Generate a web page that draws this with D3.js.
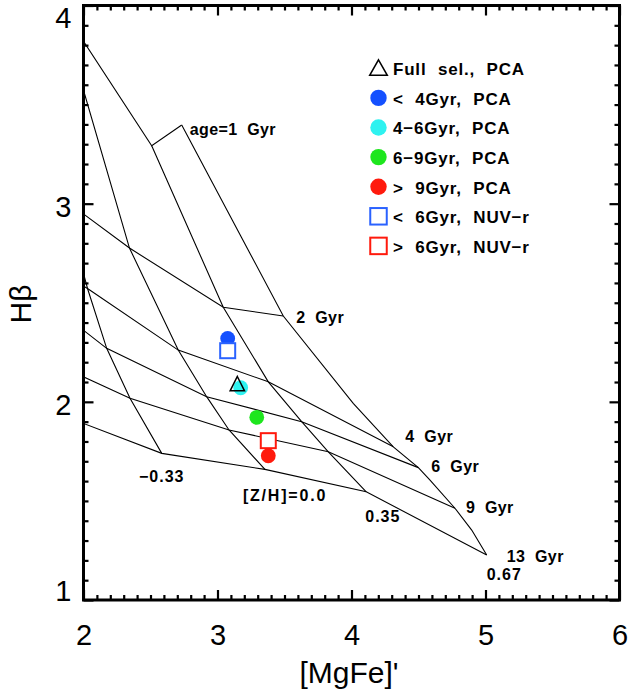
<!DOCTYPE html>
<html><head><meta charset="utf-8">
<script src="https://cdn.jsdelivr.net/npm/d3@7"></script>
<style>
html,body{margin:0;padding:0;background:#fff;}
svg{display:block;}
</style>
</head><body>
<svg id="c" width="630" height="689"></svg>
<script>
// ---- model grid (SSP grid), rows = ages, columns = metallicities
const metallicities = ["-1.35","-0.33","0.0","0.35","0.67"];
const ages = [1, 2, 4, 6, 9, 13];
const mgfeModel = [
  [1.265, 1.563, 1.808, 2.509, 2.733],
  [1.526, 1.851, 2.343, 3.043, 3.491],
  [1.601, 2.030, 2.707, 3.379, 4.312],
  [1.675, 2.173, 2.919, 3.628, 4.499],
  [1.675, 2.347, 3.086, 3.827, 4.772],
  [1.675, 2.584, 3.354, 4.110, 5.009]
];
const hbetaModel = [
  [4.582, 4.269, 4.018, 3.292, 3.397],
  [3.185, 3.023, 2.776, 2.477, 2.433],
  [2.746, 2.572, 2.261, 2.101, 1.773],
  [2.532, 2.270, 2.026, 1.900, 1.668],
  [2.228, 2.018, 1.858, 1.748, 1.463],
  [1.975, 1.740, 1.659, 1.546, 1.227]
];
// extra age steps along the [Z/H]=0.67 track
const extraAges = [3, 7, 11];
const extraMgfe = [4.013, 4.586, 4.897];
const extraHbeta = [1.992, 1.605, 1.353];

// ---- measured samples
const sampleNames = ["Full sel., PCA", "< 4Gyr, PCA", "4\u22126Gyr, PCA", "6\u22129Gyr, PCA", "> 9Gyr, PCA", "< 6Gyr, NUV\u2212r", "> 6Gyr, NUV\u2212r"];
const sampleMgfe  = [3.148, 3.076, 3.173, 3.293, 3.379, 3.076, 3.379];
const sampleHbeta = [2.090, 2.320, 2.071, 1.922, 1.728, 2.258, 1.804];
const sampleShape = ["triangle", "circle", "circle", "circle", "circle", "square", "square"];
const sampleColor = ["#000000", "#1450ff", "#2ef2f0", "#1ee61e", "#ff1a0d", "#2a62ff", "#ff1a0d"];
const drawOrder = [1, 5, 2, 0, 3, 6, 4];

// ---- axes
const xTicks = [2, 3, 4, 5, 6];
const yTicks = [1, 2, 3, 4];

const L = 83.5, R = 619.5, T = 5.5, B = 600;
const svg = d3.select("#c");
const x = d3.scaleLinear().domain([2, 6]).range([L, R]);
const y = d3.scaleLinear().domain([1, 4]).range([B, T]);

svg.append("defs").append("clipPath").attr("id", "clip")
  .append("rect").attr("x", L).attr("y", T).attr("width", R - L).attr("height", B - T);

const grid = svg.append("g").attr("clip-path", "url(#clip)")
  .attr("fill", "none").attr("stroke", "#000").attr("stroke-width", 1.1);
const line = d3.line().x(d => x(d[0])).y(d => y(d[1]));

// constant-age lines
ages.forEach((a, i) => {
  const pts = metallicities.map((z, j) => [mgfeModel[i][j], hbetaModel[i][j]]);
  grid.append("path").attr("d", line(pts));
});
// constant-metallicity lines
metallicities.forEach((z, j) => {
  let pts = ages.map((a, i) => ({age: a, v: [mgfeModel[i][j], hbetaModel[i][j]]}));
  if (z === "0.67") {
    extraAges.forEach((a, k) => pts.push({age: a, v: [extraMgfe[k], extraHbeta[k]]}));
    pts.sort((p, q) => p.age - q.age);
  }
  grid.append("path").attr("d", line(pts.map(p => p.v)));
});

// grid labels
const lblFont = "'Liberation Sans', Arial, sans-serif";
const zIdx = j => metallicities.indexOf(j);
const zTop = zIdx("0.67");
const ageLabels = [
  {i: 0, t: "age=1\u00a0\u00a0Gyr", dx: 8, dy: 10},
  {i: 1, t: "2\u00a0\u00a0Gyr", dx: 13, dy: 7},
  {i: 2, t: "4\u00a0\u00a0Gyr", dx: 12, dy: -5},
  {i: 3, t: "6\u00a0\u00a0Gyr", dx: 13, dy: 4},
  {i: 4, t: "9\u00a0\u00a0Gyr", dx: 11, dy: 5},
  {i: 5, t: "13\u00a0\u00a0Gyr", dx: 20, dy: 7}
];
ageLabels.forEach(l => {
  svg.append("text")
    .attr("x", x(mgfeModel[l.i][zTop]) + l.dx)
    .attr("y", y(hbetaModel[l.i][zTop]) + l.dy)
    .attr("font-family", lblFont).attr("font-weight", "bold").attr("font-size", 16)
    .attr("letter-spacing", 0.4)
    .text(l.t);
});
const zLabels = [
  {z: "-0.33", t: "\u22120.33", dx: 0, dy: 29, anchor: "middle", ls: 1},
  {z: "0.0", t: "[Z/H]=0.0", dx: -22, dy: 32, anchor: "start", ls: 1.8},
  {z: "0.35", t: "0.35", dx: -1, dy: 30, anchor: "start", ls: 1},
  {z: "0.67", t: "0.67", dx: 0, dy: 25, anchor: "start", ls: 1}
];
const oldest = ages.length - 1;
zLabels.forEach(l => {
  const j = zIdx(l.z);
  svg.append("text")
    .attr("x", x(mgfeModel[oldest][j]) + l.dx)
    .attr("y", y(hbetaModel[oldest][j]) + l.dy)
    .attr("text-anchor", l.anchor)
    .attr("font-family", lblFont).attr("font-weight", "bold").attr("font-size", 16)
    .attr("letter-spacing", l.ls)
    .text(l.t);
});

// symbols
function triPath(cx, cy, hw, up, down) {
  return `M${cx},${cy - up}L${cx + hw},${cy + down}L${cx - hw},${cy + down}Z`;
}
function drawSymbol(g, shape, color, cx, cy, legend) {
  if (shape === "circle") {
    g.append("circle").attr("cx", cx).attr("cy", cy).attr("r", legend ? 8.2 : 7.4).attr("fill", color);
  } else if (shape === "square") {
    const s = legend ? 16.5 : 15;
    g.append("rect").attr("x", cx - s / 2).attr("y", cy - s / 2).attr("width", s).attr("height", s)
      .attr("fill", "#fff").attr("stroke", color).attr("stroke-width", 2);
  } else {
    g.append("path").attr("d", legend ? triPath(cx, cy, 8.8, 8.5, 7) : triPath(cx, cy, 7.2, 7.5, 6.8))
      .attr("fill", "none").attr("stroke", color).attr("stroke-width", 1.5).attr("stroke-linejoin", "miter");
  }
}
const pts = svg.append("g");
drawOrder.forEach(k => drawSymbol(pts, sampleShape[k], sampleColor[k], x(sampleMgfe[k]), y(sampleHbeta[k]), false));

// legend
const leg = svg.append("g");
sampleNames.forEach((n, k) => {
  const cy = 68.3 + k * 29.6;
  drawSymbol(leg, sampleShape[k], sampleColor[k], 378.5, cy, true);
  leg.append("text").attr("x", 393).attr("y", cy + 6.8)
    .attr("font-family", lblFont).attr("font-weight", "bold").attr("font-size", 17)
    .attr("letter-spacing", 0.8).attr("word-spacing", 6)
    .text(n);
});

// axes
const axFont = "'Liberation Sans', Arial, sans-serif";
const minorX = d3.range(20, 61).map(v => v / 10).filter(v => Math.abs(v - Math.round(v)) > 1e-6);
const minorY = d3.range(10, 41).map(v => v / 10).filter(v => Math.abs(v - Math.round(v)) > 1e-6);

function styleAxis(g) {
  g.select(".domain").remove();
  g.selectAll(".tick line").attr("stroke", "#000").attr("stroke-width", 2.2);
  g.selectAll("text").attr("font-family", axFont).attr("font-size", 29).attr("fill", "#000");
}
// bottom
svg.append("g").attr("transform", `translate(0,${B})`)
  .call(d3.axisBottom(x).tickValues(xTicks).tickSize(-10).tickPadding(0).tickFormat(d3.format("d")))
  .call(styleAxis)
  .call(g => g.selectAll("text").attr("y", 45).attr("dy", null));
svg.append("g").attr("transform", `translate(0,${B})`)
  .call(d3.axisBottom(x).tickValues(minorX).tickSize(-5).tickFormat("")).call(styleAxis);
// top
svg.append("g").attr("transform", `translate(0,${T})`)
  .call(d3.axisTop(x).tickValues(xTicks).tickSize(-10).tickFormat("")).call(styleAxis);
svg.append("g").attr("transform", `translate(0,${T})`)
  .call(d3.axisTop(x).tickValues(minorX).tickSize(-5).tickFormat("")).call(styleAxis);
// left
svg.append("g").attr("transform", `translate(${L},0)`)
  .call(d3.axisLeft(y).tickValues(yTicks).tickSize(-10).tickPadding(12).tickFormat(d3.format("d")))
  .call(styleAxis)
  .call(g => g.selectAll("text").attr("dy", null)
    .attr("y", d => d === 4 ? 21.5 : (d === 1 ? 0 : 12.5)));
svg.append("g").attr("transform", `translate(${L},0)`)
  .call(d3.axisLeft(y).tickValues(minorY).tickSize(-5).tickFormat("")).call(styleAxis);
// right
svg.append("g").attr("transform", `translate(${R},0)`)
  .call(d3.axisRight(y).tickValues(yTicks).tickSize(-10).tickFormat("")).call(styleAxis);
svg.append("g").attr("transform", `translate(${R},0)`)
  .call(d3.axisRight(y).tickValues(minorY).tickSize(-5).tickFormat("")).call(styleAxis);

// frame
svg.append("rect").attr("x", L).attr("y", T).attr("width", R - L).attr("height", B - T)
  .attr("fill", "none").attr("stroke", "#000").attr("stroke-width", 3);

// titles
svg.append("text").attr("transform", `translate(31,304) rotate(-90)`)
  .attr("text-anchor", "middle").attr("font-family", axFont).attr("font-size", 30)
  .text("H\u03b2");
svg.append("text").attr("x", 349).attr("y", 683)
  .attr("text-anchor", "middle").attr("font-family", axFont).attr("font-size", 30)
  .text("[MgFe]'");
</script>
</body></html>
